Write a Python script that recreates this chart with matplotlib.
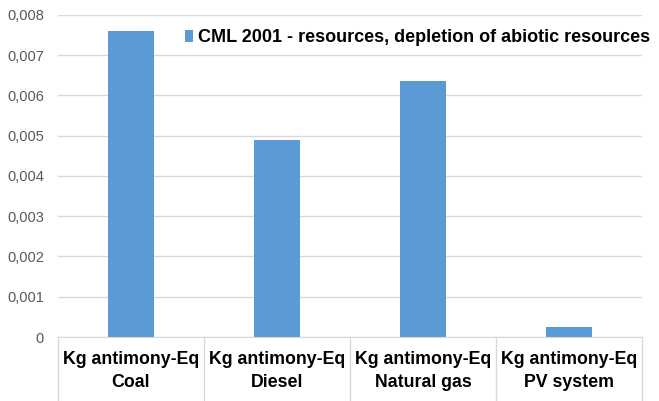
import matplotlib.pyplot as plt
from matplotlib.ticker import FuncFormatter

plt.rcParams['font.family'] = ['Liberation Sans', 'DejaVu Sans']

# Data
categories = ["Kg antimony-Eq\nCoal", "Kg antimony-Eq\nDiesel",
              "Kg antimony-Eq\nNatural gas", "Kg antimony-Eq\nPV system"]
values = [0.00760, 0.00490, 0.00636, 0.00025]
series_name = "CML 2001 - resources, depletion of abiotic resources"
yticks = [0, 0.001, 0.002, 0.003, 0.004, 0.005, 0.006, 0.007, 0.008]

bar_color = '#5b9bd5'
grid_color = '#d9d9d9'

fig = plt.figure(figsize=(6.59, 4.01), dpi=100)
ax = fig.add_axes([0.088, 0.1596, 0.886, 0.803])

x = range(len(categories))
ax.bar(x, values, width=0.315, color=bar_color, label=series_name, zorder=2)

ax.set_xlim(-0.5, len(categories) - 0.5)
ax.set_ylim(0, 0.008)
ax.set_yticks(yticks)
ax.yaxis.set_major_formatter(FuncFormatter(
    lambda v, p: '0' if v == 0 else f"{v:.3f}".replace('.', ',')))
ax.tick_params(axis='y', length=0, labelsize=10.5, labelcolor='#595959', pad=10)
ax.tick_params(axis='x', length=0, labelbottom=False)
ax.grid(axis='y', color=grid_color, linewidth=1, zorder=0)
for s in ['top', 'right', 'left']:
    ax.spines[s].set_visible(False)
ax.spines['bottom'].set_color(grid_color)

# category "table" below the axis
bottom = -0.1596 / 0.803
for i in range(len(categories) + 1):
    ax.plot([i - 0.5, i - 0.5], [0, bottom * 0.008], color=grid_color,
            linewidth=1, clip_on=False)
for i, lab in enumerate(categories):
    ax.text(i, -0.00036, lab, ha='center', va='top', fontsize=12.8,
            fontweight='bold', linespacing=1.45)

leg = ax.legend(loc='center left', bbox_to_anchor=(0.218, 0.929), frameon=False,
                prop={'size': 13.0, 'weight': 'bold'}, handlelength=0.45,
                handleheight=0.7, handletextpad=0.25, borderaxespad=0,
                borderpad=0)

fig.savefig('out.png', dpi=100)
